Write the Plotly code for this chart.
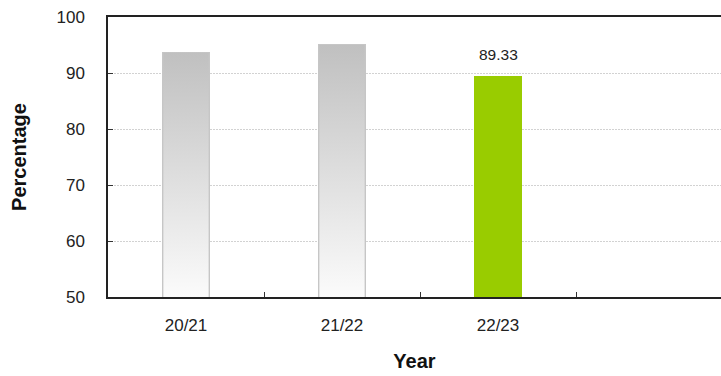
import plotly.graph_objects as go

# Data
years = ["20/21", "21/22", "22/23"]
percentages = [93.6, 95.0, 89.33]
highlight = [False, False, True]

BAR_WIDTH = 0.29
Y_MIN, Y_MAX = 50, 100
GREY_TOP = "#c0c0c0"
GREY_BOTTOM = "#fbfbfb"
GREY_EDGE = "#c6c6c6"
GREEN = "#99cc00"
FONT = "Liberation Sans, Arial, sans-serif"

xs = list(range(len(years)))

fig = go.Figure()

# Gradient fill for the earlier years, shaped from the bar values
for x, v, hl in zip(xs, percentages, highlight):
    if hl:
        continue
    left, right = x - BAR_WIDTH / 2, x + BAR_WIDTH / 2
    fig.add_trace(go.Scatter(
        x=[left, left, right, right, left],
        y=[Y_MIN, v, v, Y_MIN, Y_MIN],
        mode="lines",
        line=dict(width=0, color="rgba(0,0,0,0)"),
        fill="toself",
        fillgradient=dict(
            type="vertical",
            colorscale=[[0, GREY_BOTTOM], [1, GREY_TOP]],
        ),
        hoverinfo="skip",
        showlegend=False,
    ))

# Bars (outline for the grey years, solid for the current year)
fig.add_trace(go.Bar(
    x=xs,
    y=percentages,
    width=BAR_WIDTH,
    marker=dict(
        color=[GREEN if hl else "rgba(0,0,0,0)" for hl in highlight],
        line=dict(color=[GREEN if hl else GREY_EDGE for hl in highlight], width=2),
    ),
    showlegend=False,
))

# Value label above the current-year bar
for x, v, hl in zip(xs, percentages, highlight):
    if hl:
        fig.add_annotation(
            x=x, y=v, text=f"{v:.2f}",
            showarrow=False, yanchor="bottom", yshift=12,
            font=dict(family=FONT, size=15.5, color="#222222"),
        )

fig.update_layout(
    width=721,
    height=376,
    margin=dict(l=108, r=0, t=17, b=79),
    paper_bgcolor="white",
    plot_bgcolor="white",
    font=dict(family=FONT, size=17, color="#222222"),
    bargap=0,
    xaxis=dict(
        range=[-0.5, -0.5 + 613 / 156],
        tickmode="array",
        tickvals=xs,
        ticktext=years,
        ticks="",
        showgrid=False,
        zeroline=False,
        showline=True,
        linecolor="#222222",
        linewidth=1.5,
        mirror=True,
        tickfont=dict(size=17, color="#222222"),
        ticklabelstandoff=12,
        title=dict(text="<b>Year</b>", font=dict(size=20, color="#111111"), standoff=20),
        minor=dict(
            tickmode="array",
            tickvals=[x + 0.5 for x in xs],
            ticks="inside",
            ticklen=5,
            tickwidth=1,
            tickcolor="#333333",
            showgrid=False,
        ),
    ),
    yaxis=dict(
        range=[Y_MIN, Y_MAX],
        tickmode="linear",
        tick0=50,
        dtick=10,
        ticks="inside",
        ticklen=5,
        tickcolor="#333333",
        showgrid=True,
        gridcolor="#d2d2d2",
        griddash="2px,1px",
        gridwidth=1,
        zeroline=False,
        showline=True,
        linecolor="#222222",
        linewidth=1.5,
        tickfont=dict(size=17, color="#222222"),
        ticklabelstandoff=18,
        title=dict(text="<b>Percentage</b>", font=dict(size=20, color="#111111"), standoff=24),
    ),
)

fig.write_html("out.html")
